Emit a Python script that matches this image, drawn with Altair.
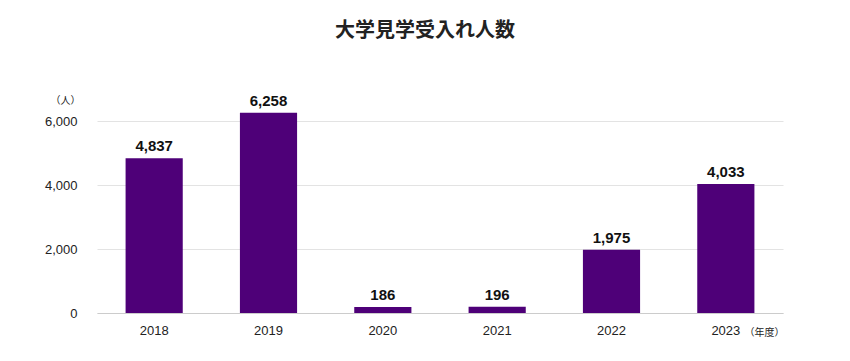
import altair as alt
import pandas as pd

years = ["2018", "2019", "2020", "2021", "2022", "2023"]
visitors = [4837, 6258, 186, 196, 1975, 4033]
y_ticks = [0, 2000, 4000, 6000]

df = pd.DataFrame({"year": years, "visitors": visitors})
df["label"] = [f"{v:,}" for v in visitors]

num_font = "Liberation Sans"
jp_font = "Noto Sans CJK JP"

base = alt.Chart(df)

bars = base.mark_bar(color="#4E0078").encode(
    x=alt.X(
        "year:N",
        sort=years,
        scale=alt.Scale(paddingInner=0.5, paddingOuter=0.25),
        axis=alt.Axis(
            title="（年度）",
            titleFont=jp_font,
            titleFontSize=10,
            titleFontWeight="normal",
            titleColor="#222222",
            titleAnchor="start",
            titleAlign="left",
            titleBaseline="middle",
            titleX=647,
            titleY=19,
            labelAngle=0,
            labelFont=num_font,
            labelFontSize=13,
            labelColor="#222222",
            labelPadding=11,
            ticks=False,
            domainColor="#cccccc",
            grid=False,
        ),
    ),
    y=alt.Y(
        "visitors:Q",
        scale=alt.Scale(domain=[0, 7000], nice=False),
        axis=alt.Axis(
            values=y_ticks,
            format=",d",
            title="（人）",
            titleFont=jp_font,
            titleFontSize=10,
            titleFontWeight="normal",
            titleColor="#222222",
            titleAngle=0,
            titleAlign="right",
            titleBaseline="middle",
            titleX=-17,
            titleY=11,
            labelFont=num_font,
            labelFontSize=13,
            labelColor="#222222",
            labelPadding=20,
            ticks=False,
            domain=False,
            gridColor="#e3e3e3",
        ),
    ),
)

labels = base.mark_text(
    dy=-7, font=num_font, fontSize=15, fontWeight="bold", color="#111111", baseline="alphabetic"
).encode(
    x=alt.X("year:N", sort=years),
    y="visitors:Q",
    text="label:N",
)

chart = (
    alt.layer(bars, labels)
    .properties(
        width=686,
        height=224,
        autosize=alt.AutoSizeParams(type="none"),
        padding={"left": 89, "top": 81, "right": 50, "bottom": 40},
        title=alt.TitleParams(
            "大学見学受入れ人数",
            font=jp_font,
            fontSize=20,
            fontWeight="bold",
            color="#222222",
            anchor="middle",
            dx=-15,
            offset=48,
        ),
    )
    .configure_view(stroke=None)
)

chart.save("out.html", embed_options={"renderer": "svg", "actions": False})
